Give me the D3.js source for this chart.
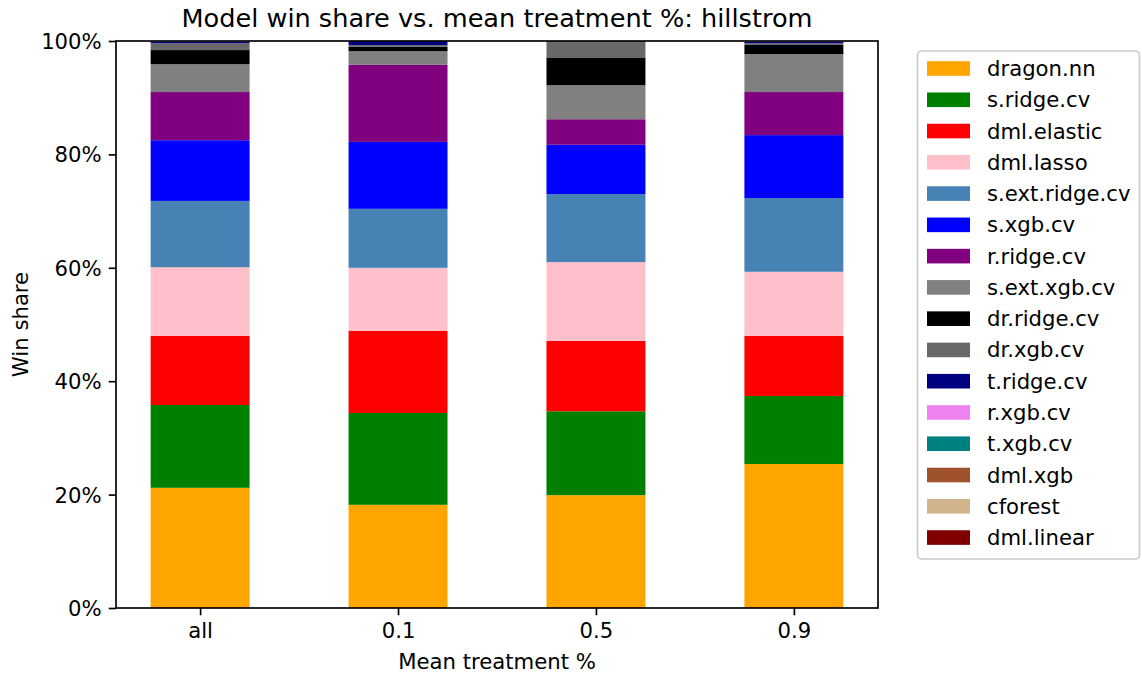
<!DOCTYPE html>
<html>
<head>
<meta charset="utf-8">
<script src="https://cdn.jsdelivr.net/npm/d3@7"></script>
<style>
  html, body { margin: 0; padding: 0; background: #fff; }
  svg { display: block; font-family: "DejaVu Sans", sans-serif; }
</style>
</head>
<body>
<svg id="chart" width="1142" height="677"></svg>
<script>
// ---- Data ----
const categories = ["all", "0.1", "0.5", "0.9"];
const models = ["dragon.nn", "s.ridge.cv", "dml.elastic", "dml.lasso", "s.ext.ridge.cv", "s.xgb.cv",
  "r.ridge.cv", "s.ext.xgb.cv", "dr.ridge.cv", "dr.xgb.cv", "t.ridge.cv", "r.xgb.cv",
  "t.xgb.cv", "dml.xgb", "cforest", "dml.linear"];
const colors = ["#FFA500", "#008000", "#FF0000", "#FFC0CB", "#4682B4", "#0000FF",
  "#800080", "#808080", "#000000", "#696969", "#000080", "#EE82EE",
  "#008080", "#A0522D", "#D2B48C", "#800000"];
// win share (%) per model, in category order
const dragonNN    = [21.2, 18.2, 19.9, 25.4];
const sRidgeCV    = [14.6, 16.2, 14.8, 12.0];
const dmlElastic  = [12.2, 14.5, 12.4, 10.6];
const dmlLasso    = [12.1, 11.1, 13.9, 11.3];
const sExtRidgeCV = [11.7, 10.4, 12.0, 13.0];
const sXgbCV      = [10.7, 11.8, 8.7, 11.1];
const rRidgeCV    = [8.5, 13.6, 4.5, 7.6];
const sExtXgbCV   = [4.9, 2.4, 6.0, 6.7];
const drRidgeCV   = [2.5, 0.8, 4.8, 1.6];
const drXgbCV     = [1.2, 0.3, 3.0, 0.3];
const tRidgeCV    = [0.3, 0.7, 0.0, 0.3];
const rXgbCV      = [0.1, 0.0, 0.0, 0.1];
const tXgbCV      = [0, 0, 0, 0];
const dmlXgb      = [0, 0, 0, 0];
const cforest     = [0, 0, 0, 0];
const dmlLinear   = [0, 0, 0, 0];
const yTicks = [0, 20, 40, 60, 80, 100];
const title = "Model win share vs. mean treatment %: hillstrom";
const xLabel = "Mean treatment %";
const yLabel = "Win share";

const seriesValues = [dragonNN, sRidgeCV, dmlElastic, dmlLasso, sExtRidgeCV, sXgbCV, rRidgeCV,
  sExtXgbCV, drRidgeCV, drXgbCV, tRidgeCV, rXgbCV, tXgbCV, dmlXgb, cforest, dmlLinear];

// ---- Layout ----
const L = 116, R = 878, T = 41, B = 608;
const FS = 21.2;
const svg = d3.select("#chart");

const rows = categories.map((c, i) => {
  const o = { cat: c, idx: i };
  models.forEach((m, j) => o[m] = seriesValues[j][i]);
  return o;
});
const stack = d3.stack().keys(models)(rows);

const x = d3.scaleLinear().domain([-0.425, 3.425]).range([L, R]);
const y = d3.scaleLinear().domain([0, 100]).range([B, T]);
const barW = 0.5;

const g = svg.append("g");
stack.forEach((layer, j) => {
  g.selectAll(null).data(layer).enter().append("rect")
    .attr("x", d => x(d.data.idx - barW / 2))
    .attr("width", d => x(d.data.idx + barW / 2) - x(d.data.idx - barW / 2))
    .attr("y", d => y(d[1]))
    .attr("height", d => Math.max(0, y(d[0]) - y(d[1])))
    .attr("fill", colors[j]);
});

// Axes
const tickLen = 7.3, tickW = 1.67;
const yAxis = d3.axisLeft(y).tickValues(yTicks).tickFormat(d => d + "%").tickSize(tickLen).tickPadding(7);
const yg = svg.append("g").attr("transform", `translate(${L},0)`).call(yAxis);
const xAxis = d3.axisBottom(x).tickValues(categories.map((c, i) => i)).tickFormat(i => categories[i]).tickSize(tickLen).tickPadding(7);
const xg = svg.append("g").attr("transform", `translate(0,${B})`).call(xAxis);
[yg, xg].forEach(a => {
  a.select(".domain").remove();
  a.selectAll(".tick line").attr("stroke", "#000").attr("stroke-width", tickW);
  a.selectAll(".tick text").attr("font-size", FS).attr("font-family", "DejaVu Sans").attr("fill", "#000");
});
yg.selectAll(".tick text").attr("dy", "0.35em");
xg.selectAll(".tick text").attr("dy", "0.76em");

// Frame
svg.append("rect").attr("x", L).attr("y", T).attr("width", R - L).attr("height", B - T)
  .attr("fill", "none").attr("stroke", "#000").attr("stroke-width", tickW);

// Title and labels
svg.append("text").attr("x", (L + R) / 2).attr("y", 27).attr("text-anchor", "middle")
  .attr("font-size", 25.6).text(title);
svg.append("text").attr("x", (L + R) / 2).attr("y", 669).attr("text-anchor", "middle")
  .attr("font-size", FS).text(xLabel);
svg.append("text").attr("transform", `translate(28,${(T + B) / 2}) rotate(-90)`).attr("text-anchor", "middle")
  .attr("font-size", FS).text(yLabel);

// Legend
const lg = svg.append("g");
lg.append("rect").attr("x", 917.5).attr("y", 51).attr("width", 222).attr("height", 508)
  .attr("rx", 4).attr("fill", "#fff").attr("fill-opacity", 0.8).attr("stroke", "#cccccc").attr("stroke-width", 1.7);
const rowH = 31.27, y0 = 68.5;
models.forEach((m, j) => {
  const cy = y0 + j * rowH;
  lg.append("rect").attr("x", 927).attr("y", cy - 7.3).attr("width", 43).attr("height", 14.6).attr("fill", colors[j]);
  lg.append("text").attr("x", 987).attr("y", cy + 7.5).attr("font-size", FS).text(m);
});
</script>
</body>
</html>
